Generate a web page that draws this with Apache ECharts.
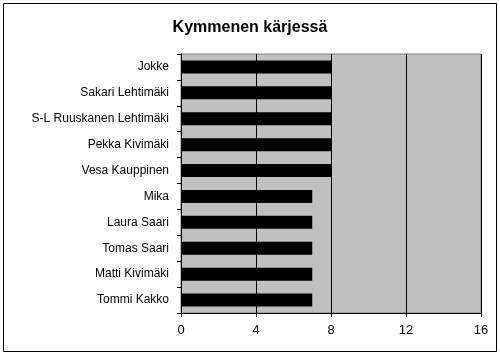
<!DOCTYPE html>
<html><head><meta charset="utf-8">
<script src="https://cdn.jsdelivr.net/npm/echarts@6/dist/echarts.min.js"></script>
<style>html,body{margin:0;padding:0;background:#fff}#c{width:500px;height:356px}</style>
</head><body><div id="c"></div>
<script>
const categories = ["Jokke","Sakari Lehtimäki","S-L Ruuskanen Lehtimäki","Pekka Kivimäki","Vesa Kauppinen","Mika","Laura Saari","Tomas Saari","Matti Kivimäki","Tommi Kakko"];
const values = [8,8,8,8,8,7,7,7,7,7];
const xTicks = [0,4,8,12,16];
const chart = echarts.init(document.getElementById('c'), null, {renderer:'canvas'});
chart.setOption({
  animation:false,
  backgroundColor:'#fff',
  title:{text:'Kymmenen kärjessä',left:'center',top:15,textStyle:{fontFamily:'Liberation Sans, Arial',fontSize:16,fontWeight:'bold',color:'#000'}},
  graphic:[{type:'rect',shape:{x:3.5,y:3.5,width:493,height:348},style:{fill:'none',stroke:'#000',lineWidth:1},z:100}],
  grid:{left:181,right:19,top:54,bottom:43,show:true,backgroundColor:'#c0c0c0',borderColor:'#808080',borderWidth:1},
  xAxis:{type:'value',min:xTicks[0],max:xTicks[xTicks.length-1],interval:4,
    axisLine:{show:true,lineStyle:{color:'#000'}},
    axisTick:{show:true,length:4,lineStyle:{color:'#000'}},
    axisLabel:{color:'#000',fontFamily:'Liberation Sans, Arial',fontSize:13,margin:11},
    splitLine:{show:true,lineStyle:{color:'#000',width:1}}},
  yAxis:{type:'category',data:categories,inverse:true,
    axisLine:{show:true,lineStyle:{color:'#000'}},
    axisTick:{show:true,length:4,alignWithLabel:false,lineStyle:{color:'#000'}},
    axisLabel:{color:'#000',fontFamily:'Liberation Sans, Arial',fontSize:12,margin:12}},
  series:[{type:'bar',data:values,barWidth:13,itemStyle:{color:'#000'}}]
});
</script></body></html>
